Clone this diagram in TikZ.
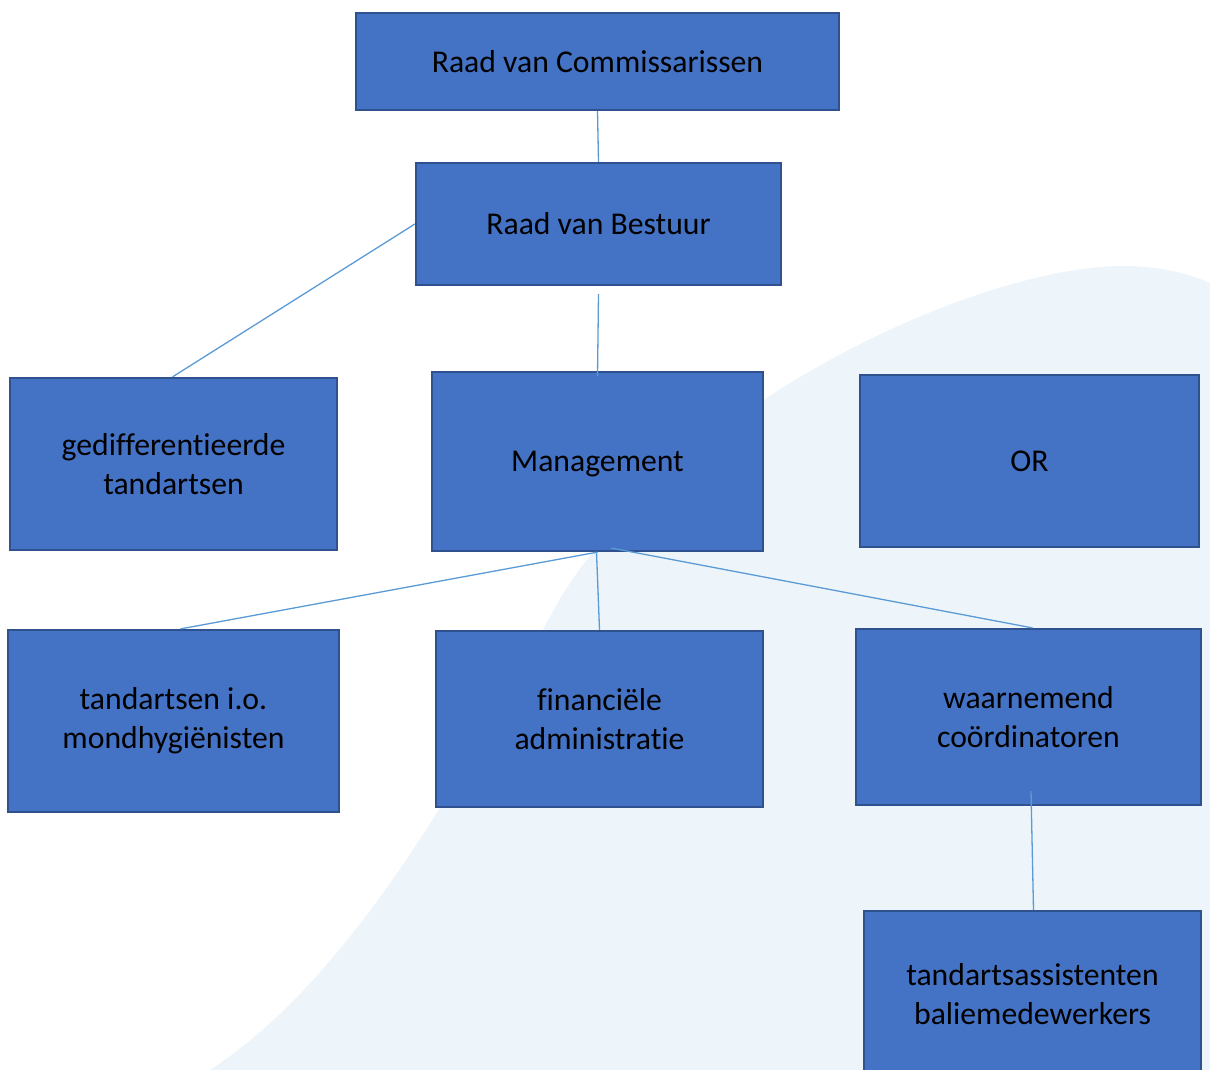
\documentclass[tikz,border=0pt]{standalone}
\usepackage{fontspec}
\setmainfont{Carlito}[Ligatures={NoCommon,NoRequired}]
\usepackage{xcolor}
\definecolor{boxfill}{HTML}{4472C4}
\definecolor{boxedge}{HTML}{2F528F}
\definecolor{linkcol}{HTML}{5B9BD5}
\definecolor{wave}{HTML}{EDF5FB}
\begin{document}
\begin{tikzpicture}[x=1pt,y=-1pt]
	\tikzstyle{unit} = [draw=boxedge, fill=boxfill, line width=2.2pt, inner sep=0pt, align=center, font=\fontsize{31.7}{39}\selectfont]
	\tikzstyle{link} = [draw=linkcol, line width=1.3pt]
	\useasboundingbox (0,0) rectangle (1210,1070);
	\clip (0,0) rectangle (1210,1070);
	\fill[wave] (210,1070) .. controls (355,975) and (465,771) .. (561,597)
		.. controls (683,400) and (980,266) .. (1123,266)
		.. controls (1160,266) and (1190,274) .. (1210,283) -- (1210,1070) -- cycle;
		\node[unit, minimum width=483, minimum height=97] (rvc) at (597.5,61.5) {Raad van Commissarissen};
		\node[unit, minimum width=365, minimum height=122] (rvb) at (598.5,224) {Raad van Bestuur};
		\node[unit, minimum width=327, minimum height=172] (gdt) at (173.5,464) {gedifferentieerde\\tandartsen};
		\node[unit, minimum width=331, minimum height=179, text depth=0pt] (mgmt) at (597.5,461.5) {Management};
		\node[unit, minimum width=339, minimum height=172] (ornode) at (1029.5,461) {OR};
		\node[unit, minimum width=331, minimum height=182] (tio) at (173.5,721) {tandartsen i.o.\\mondhygiënisten};
		\node[unit, minimum width=327, minimum height=176] (fin) at (599.5,719) {financiële\\administratie};
		\node[unit, minimum width=345, minimum height=176] (wrn) at (1028.5,717) {waarnemend\\coördinatoren};
		\node[unit, minimum width=337, minimum height=166] (tab) at (1032.5,994) {tandartsassistenten\\baliemedewerkers};
  	\draw[link] (rvc.south) -- (rvb.north);
  	\draw[link] (rvb.west) -- ([xshift=-1pt]gdt.north);
  	\draw[link] ([yshift=-8pt]rvb.south) -- ([yshift=-5pt]mgmt.north);
  	\draw[link] (mgmt.south) -- ([xshift=7pt]tio.north);
  	\draw[link] ([xshift=-1pt]mgmt.south) -- (fin.north);
  	\draw[link] ([xshift=14pt,yshift=4pt]mgmt.south) -- ([xshift=4pt]wrn.north);
  	\draw[link] ([xshift=2.5pt,yshift=15pt]wrn.south) -- ([xshift=1pt]tab.north);
	\end{tikzpicture}
\end{document}
